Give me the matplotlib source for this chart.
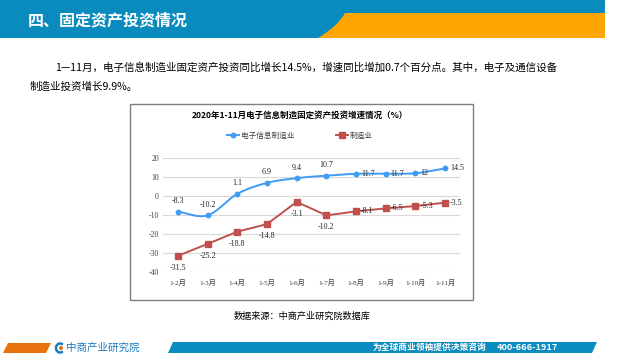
import numpy as np
import matplotlib
matplotlib.use("Agg")
import matplotlib.pyplot as plt
from matplotlib.patches import Polygon, Rectangle, PathPatch
from matplotlib.path import Path
from matplotlib.lines import Line2D

plt.rcParams['font.family'] = ['Noto Sans CJK SC', 'DejaVu Sans']

# ---------------- data ----------------
categories = ["1-2月", "1-3月", "1-4月", "1-5月", "1-6月", "1-7月", "1-8月", "1-9月", "1-10月", "1-11月"]
electronics = [-8.3, -10.2, 1.1, 6.9, 9.4, 10.7, 11.7, 11.7, 12, 14.5]
manufacturing = [-31.5, -25.2, -18.8, -14.8, -3.1, -10.2, -8.1, -6.5, -5.3, -3.5]
elec_labels = ["-8.3", "-10.2", "1.1", "6.9", "9.4", "10.7", "11.7", "11.7", "12", "14.5"]
manu_labels = ["-31.5", "-25.2", "-18.8", "-14.8", "-3.1", "-10.2", "-8.1", "-6.5", "-5.3", "-3.5"]
yticks = [20, 10, 0, -10, -20, -30, -40]
series_names = ["电子信息制造业", "制造业"]

W, H = 640, 360
fig = plt.figure(figsize=(W / 100, H / 100), dpi=100)
fig.patch.set_facecolor("white")

# overlay axes in pixel coordinates for the slide decoration
deco = fig.add_axes([0, 0, 1, 1])
deco.set_xlim(0, W)
deco.set_ylim(H, 0)
deco.axis("off")


def ftxt(x, y, s, **kw):
    fig.text(x / W, 1 - y / H, s, **kw)


# header banner
BLUE = "#0a8bbd"
ORANGE = "#ffa602"
deco.add_patch(Rectangle((0, 0), 605, 38, color=BLUE, lw=0))
verts = [(318, 38), (338, 26), (345, 13), (372, 13), (605, 13), (605, 38), (318, 38)]
codes = [Path.MOVETO, Path.CURVE3, Path.CURVE3, Path.LINETO, Path.LINETO, Path.LINETO, Path.CLOSEPOLY]
deco.add_patch(PathPatch(Path(verts, codes), facecolor=ORANGE, edgecolor="none"))
ftxt(28, 20, "四、固定资产投资情况", fontsize=11.5, fontweight="bold", color="white",
     va="center", ha="left")

# body text
ftxt(55, 68, "1—11月，电子信息制造业固定资产投资同比增长14.5%，增速同比增加0.7个百分点。其中，电子及通信设备",
     fontsize=7.6, color="black", va="center", ha="left")
ftxt(30, 87, "制造业投资增长9.9%。", fontsize=7.6, color="black", va="center", ha="left")

# chart box
deco.add_patch(Rectangle((130, 104), 343, 196, facecolor="white", edgecolor="#7f7f7f", lw=1.0))
ftxt(300, 115, "2020年1-11月电子信息制造固定资产投资增速情况（%）", fontsize=6.1,
     fontweight="bold", color="black", ha="center", va="center")

# source text
ftxt(302, 316, "数据来源：中商产业研究院数据库", fontsize=6.6, color="black", ha="center", va="center")

# footer
deco.add_patch(Polygon([(3, 353), (46, 353), (51, 343), (8, 343)], closed=True,
                       facecolor="#e8730e", edgecolor="none"))
deco.add_patch(Polygon([(168, 353), (592, 353), (597, 342), (173, 342)], closed=True,
                       facecolor="#0a8cc0", edgecolor="none"))
# logo icon
deco.add_patch(matplotlib.patches.Arc((60, 348), 8, 9, theta1=50, theta2=310, color="#1a7cc4", lw=1.8))
deco.add_patch(matplotlib.patches.Circle((61, 348), 1.3, color="#e8730e"))
ftxt(66, 348, "中商产业研究院", fontsize=7.6, color="#1a7cc4", ha="left", va="center")
ftxt(373, 347.5, "为全球商业领袖提供决策咨询", fontsize=6.3, color="white", fontweight="bold",
     ha="left", va="center")
ftxt(497, 347.5, "400-666-1917", fontsize=6.6, color="white", fontweight="bold",
     ha="left", va="center")

# ---------------- chart ----------------
L, R, T, B = 163, 460, 158, 272
ax = fig.add_axes([L / W, 1 - B / H, (R - L) / W, (B - T) / H])
ax.patch.set_alpha(0)
x = np.arange(len(categories))
ax.set_xlim(-0.5, len(categories) - 0.5)
ax.set_ylim(-40, 20)
for s in ax.spines.values():
    s.set_visible(False)
ax.set_yticks(yticks)
ax.set_yticklabels([str(v) for v in yticks])
ax.yaxis.grid(True, color="#d9d9d9", lw=0.8)
ax.set_axisbelow(True)
ax.tick_params(axis="y", length=0, pad=3, labelsize=5.6, labelcolor="#404040")
ax.set_xticks(x)
ax.set_xticklabels(categories)
ax.tick_params(axis="x", length=0, pad=5, labelsize=5.2, labelcolor="#404040")
for lab in ax.get_xticklabels() + ax.get_yticklabels():
    lab.set_fontfamily(["Liberation Serif", "Noto Sans CJK SC"])

BL = "#3f9cf2"
RD = "#c0504d"


def catmull(xs, ys, n=24):
    xs = np.asarray(xs, float)
    ys = np.asarray(ys, float)
    px = np.concatenate([[2 * xs[0] - xs[1]], xs, [2 * xs[-1] - xs[-2]]])
    py = np.concatenate([[2 * ys[0] - ys[1]], ys, [2 * ys[-1] - ys[-2]]])
    ox, oy = [], []
    for i in range(1, len(px) - 2):
        t = np.linspace(0, 1, n, endpoint=False)
        for arr, out in ((px, ox), (py, oy)):
            p0, p1, p2, p3 = arr[i - 1], arr[i], arr[i + 1], arr[i + 2]
            out.extend(0.5 * (2 * p1 + (-p0 + p2) * t + (2 * p0 - 5 * p1 + 4 * p2 - p3) * t ** 2
                              + (-p0 + 3 * p1 - 3 * p2 + p3) * t ** 3))
    ox.append(xs[-1])
    oy.append(ys[-1])
    return np.array(ox), np.array(oy)


sx, sy = catmull(x, electronics)
ax.plot(sx, sy, color=BL, lw=1.4, zorder=3)
ax.plot(x, electronics, ls="none", marker="o", ms=3.2, color=BL, zorder=4)
ax.plot(x, manufacturing, color=RD, lw=1.4, marker="s", ms=5, zorder=3)

lab_font = dict(fontsize=5.8, color="#262626", family=["Liberation Serif", "Noto Sans CJK SC"])
for i, (v, s) in enumerate(zip(electronics, elec_labels)):
    if i < 6:
        ax.annotate(s, (i, v), xytext=(0, 7.5), textcoords="offset points", ha="center",
                    va="center", **lab_font)
    else:
        ax.annotate(s, (i, v), xytext=(3.5, 0), textcoords="offset points", ha="left",
                    va="center", **lab_font)
for i, (v, s) in enumerate(zip(manufacturing, manu_labels)):
    if i < 6:
        ax.annotate(s, (i, v), xytext=(0, -8.5), textcoords="offset points", ha="center",
                    va="center", **lab_font)
    else:
        ax.annotate(s, (i, v), xytext=(3.5, 0), textcoords="offset points", ha="left",
                    va="center", **lab_font)

# legend
h1 = Line2D([], [], color=BL, lw=1.4, marker="o", ms=3.2)
h2 = Line2D([], [], color=RD, lw=1.4, marker="s", ms=5)
fig.legend([h1, h2], series_names, loc="center", bbox_to_anchor=(300 / W, 1 - 136 / H),
           ncol=2, frameon=False, fontsize=5.5, handlelength=1.5, handletextpad=0.3,
           columnspacing=5.5, labelcolor="#404040")

fig.savefig("out.png", dpi=100, facecolor="white")
